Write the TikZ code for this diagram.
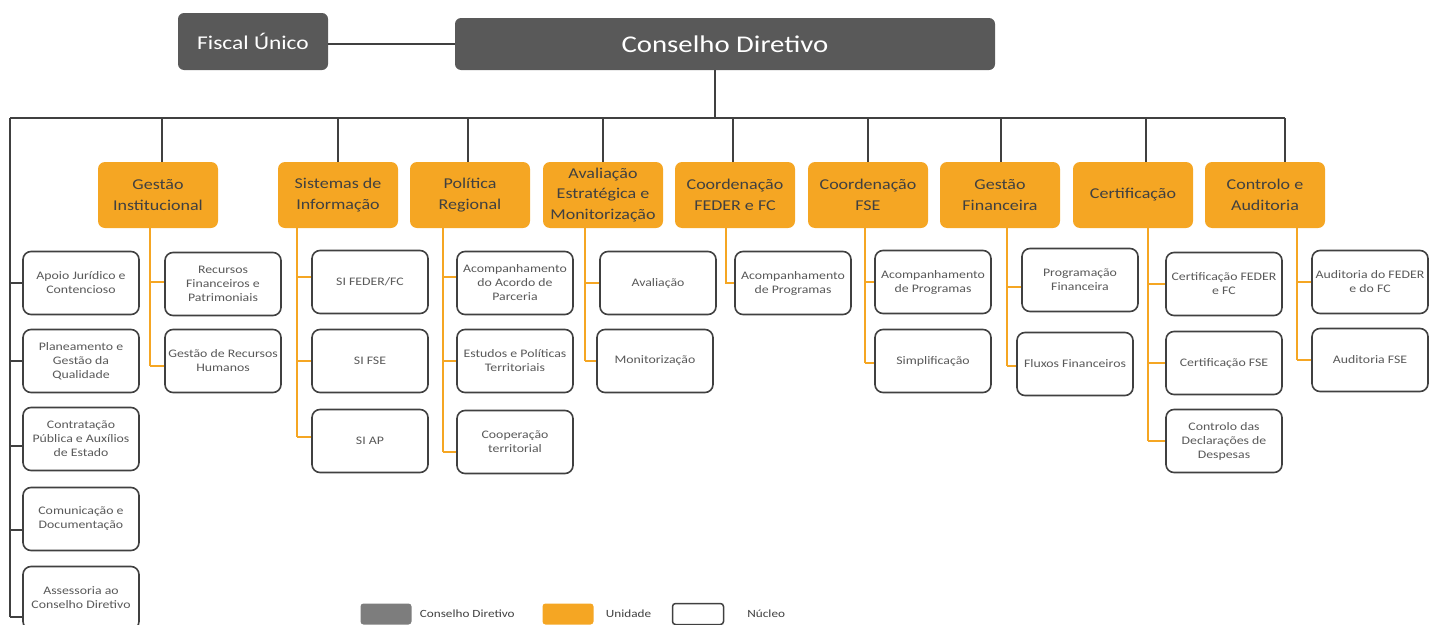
\documentclass[tikz,border=0pt]{standalone}
\usepackage{fontspec}
\setmainfont{Carlito}[FakeStretch=1.2]
\usetikzlibrary{positioning}
\definecolor{cdg}{RGB}{89,89,89}
\definecolor{und}{RGB}{245,166,35}
\definecolor{nuc}{RGB}{64,64,64}
\definecolor{leg}{RGB}{125,125,125}

\begin{document}
\begin{tikzpicture}[x=1pt,y=-1pt,
  cdbox/.style={fill=cdg,rounded corners=6pt,text=white,inner sep=0pt},
  unit/.style={fill=und,rounded corners=7pt,minimum width=120pt,minimum height=66pt,inner sep=0pt,align=center,text=nuc,font=\fontsize{15}{20.5}\selectfont},
  nucleo/.style={draw=nuc,line width=1.6pt,fill=white,rounded corners=8pt,minimum width=116pt,minimum height=63pt,inner sep=0pt,align=center,text=cdg,font=\fontsize{11.5}{14}\selectfont},
  ln/.style={draw=nuc,line width=1.4pt},
  oln/.style={draw=und,line width=2pt},
  legbox/.style={rounded corners=3pt,minimum width=51pt,minimum height=21pt,inner sep=0pt},
  legtxt/.style={inner sep=0pt,text=nuc,font=\fontsize{11}{13}\selectfont}]
  \useasboundingbox (0,0) rectangle (1438,624);
  % topo
  \node[cdbox,minimum width=150pt,minimum height=57pt,font=\fontsize{19.5}{22}\selectfont] (fu) at (253,41.5) {Fiscal Único};
  \node[cdbox,minimum width=540pt,minimum height=52pt,font=\fontsize{24}{26}\selectfont] (cd) at (725,44) {Conselho Diretivo};
  \draw[ln] (fu.east |- cd.west) -- (cd.west);
  \coordinate (bl) at (10,118); \coordinate (br) at (1285,118); \coordinate (bt) at (715,118);
  \draw[ln] (cd.south -| bt) -- (bt);
  \draw[ln] (bl) -- (br);
  % unidades
  \foreach \n/\x/\d/\t in {gi/158/4/{Gestão\\Institucional}, si/338/0/{Sistemas de\\Informação}, pr/470/-2/{Política\\Regional}, ae/603/0/{Avaliação\\Estratégica e\\Monitorização}, cf/735/-2/{Coordenação\\FEDER e FC}, cs/868/0/{Coordenação\\FSE}, gf/1000/1/{Gestão\\Financeira}, ce/1133/13/{Certificação}, ca/1265/20/{Controlo e\\Auditoria}} {
    \node[unit] (\n) at (\x,195) {\t};
    \coordinate (\n-t) at ([xshift=\d pt]\n.north);
    \draw[ln] (\n-t) -- (\n-t |- bl);
  }
  \foreach \n/\x in {gi/150,si/297,pr/443,ae/585,cf/726,cs/865,gf/1007,ce/1148,ca/1297} \coordinate (\n-s) at (\x,228);
  % nucleos ligados ao Conselho Diretivo
  \foreach \n/\y/\d/\t in {aj/283/0/{Apoio Jurídico e\\Contencioso}, pq/361/0/{Planeamento e\\Gestão da\\Qualidade}, cp/439/-7/{Contratação\\Pública e Auxílios\\de Estado}, cm/519/-11/{Comunicação e\\Documentação}, as/598/-19/{Assessoria ao\\Conselho Diretivo}} {
    \node[nucleo] (\n) at (81,\y) {\t};
    \coordinate (\n-b) at ([yshift=\d pt]\n.west);
    \draw[ln] (\n-b -| bl) -- (\n-b);
  }
  \draw[ln] (bl) -- (as-b -| bl);
  % Gestao Institucional
  \foreach \n/\y/\d/\t in {rf/284/2/{Recursos\\Financeiros e\\Patrimoniais}, rh/361/-5/{Gestão de Recursos\\Humanos}} {
    \node[nucleo] (\n) at (223,\y) {\t};
    \coordinate (\n-b) at ([yshift=\d pt]\n.west);
    \draw[oln] (\n-b -| gi-s) -- (\n-b);
  }
  \draw[oln] (gi-s) -- (rh-b -| gi-s);
  % Sistemas de Informacao
  \foreach \n/\y/\d/\t in {sf/282/5/{SI FEDER/FC}, ss/361/0/{SI FSE}, sa/441/4/{SI AP}} {
    \node[nucleo] (\n) at (370,\y) {\t};
    \coordinate (\n-b) at ([yshift=\d pt]\n.west);
    \draw[oln] (\n-b -| si-s) -- (\n-b);
  }
  \draw[oln] (si-s) -- (sa-b -| si-s);
  % Politica Regional
  \foreach \n/\y/\d/\t in {aa/283/6/{Acompanhamento\\do Acordo de\\Parceria}, ep/361/0/{Estudos e Políticas\\Territoriais}, ct/442/-10/{Cooperação\\territorial}} {
    \node[nucleo] (\n) at (515,\y) {\t};
    \coordinate (\n-b) at ([yshift=\d pt]\n.west);
    \draw[oln] (\n-b -| pr-s) -- (\n-b);
  }
  \draw[oln] (pr-s) -- (ct-b -| pr-s);
  % Avaliacao e Monitorizacao
  \foreach \n/\x/\y/\t in {av/658/283/{Avaliação}, mo/655/361/{Monitorização}} {
    \node[nucleo] (\n) at (\x,\y) {\t};
    \draw[oln] (\n.west -| ae-s) -- (\n.west);
  }
  \draw[oln] (ae-s) -- (mo.west -| ae-s);
  % Coordenacao FEDER e FC
  \node[nucleo] (apf) at (793,283) {Acompanhamento\\de Programas};
  \draw[oln] (cf-s) -- (apf.west -| cf-s) -- (apf.west);
  % Coordenacao FSE
  \foreach \n/\y/\d/\t in {aps/282/0/{Acompanhamento\\de Programas}, sp/361/-2/{Simplificação}} {
    \node[nucleo] (\n) at (933,\y) {\t};
    \coordinate (\n-b) at ([yshift=\d pt]\n.west);
    \draw[oln] (\n-b -| cs-s) -- (\n-b);
  }
  \draw[oln] (cs-s) -- (sp-b -| cs-s);
  % Gestao Financeira
  \foreach \n/\x/\y/\d/\t in {pf/1080/280/-7/{Programação\\Financeira}, ff/1075/364/-2/{Fluxos Financeiros}} {
    \node[nucleo] (\n) at (\x,\y) {\t};
    \coordinate (\n-b) at ([yshift=\d pt]\n.west);
    \draw[oln] (\n-b -| gf-s) -- (\n-b);
  }
  \draw[oln] (gf-s) -- (ff-b -| gf-s);
  % Certificacao
  \foreach \n/\y/\t in {cef/284/{Certificação FEDER\\e FC}, ces/363/{Certificação FSE}, cdd/441/{Controlo das\\Declarações de\\Despesas}} {
    \node[nucleo] (\n) at (1224,\y) {\t};
    \draw[oln] (\n.west -| ce-s) -- (\n.west);
  }
  \draw[oln] (ce-s) -- (cdd.west -| ce-s);
  % Controlo e Auditoria
  \foreach \n/\y/\t in {adf/282/{Auditoria do FEDER\\e do FC}, ads/360/{Auditoria FSE}} {
    \node[nucleo] (\n) at (1370,\y) {\t};
    \draw[oln] (\n.west -| ca-s) -- (\n.west);
  }
  \draw[oln] (ca-s) -- (ads.west -| ca-s);
  % legenda
  \node[legbox,fill=leg] (lcd) at (386,614) {};
  \node[legtxt,right=8pt of lcd] (tcd) {Conselho Diretivo};
  \node[legbox,fill=und] (lun) at (568,614) {};
  \node[legtxt,right=12pt of lun] (tun) {Unidade};
  \node[legbox,draw=nuc,line width=1.5pt,fill=white] (lnu) at (698,614) {};
  \node[legtxt,right=23pt of lnu] (tnu) {Núcleo};
\end{tikzpicture}
\end{document}
